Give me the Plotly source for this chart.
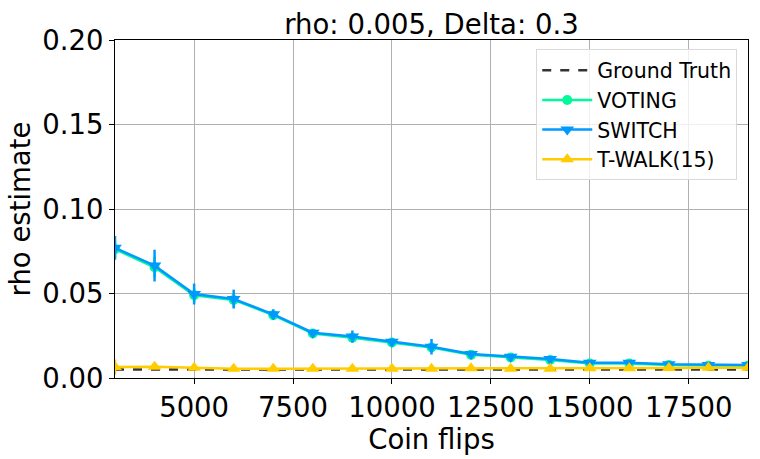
import plotly.graph_objects as go

coin_flips = [3000, 4000, 5000, 6000, 7000, 8000, 9000, 10000, 11000, 12000,
              13000, 14000, 15000, 16000, 17000, 18000, 19000]
ground_truth = [0.005] * len(coin_flips)
voting = [0.0762, 0.0655, 0.0490, 0.0462, 0.0372, 0.0263, 0.0238, 0.0210, 0.0180, 0.0137,
          0.0121, 0.0107, 0.0086, 0.0086, 0.0077, 0.0073, 0.0073]
voting_err = [0.005, 0.006, 0.004, 0.004, 0.002, 0.0015, 0.0015, 0.0015, 0.002, 0.0012,
              0.001, 0.001, 0.001, 0.001, 0.001, 0.001, 0.001]
switch = [0.077, 0.0665, 0.0497, 0.0467, 0.0377, 0.0268, 0.0245, 0.0215, 0.0185, 0.0142,
          0.0126, 0.0112, 0.009, 0.009, 0.0081, 0.0077, 0.0077]
switch_err = [0.007, 0.0094, 0.0062, 0.0056, 0.003, 0.002, 0.0036, 0.002, 0.0046, 0.0018,
              0.0015, 0.0015, 0.0015, 0.0015, 0.0015, 0.0015, 0.0015]
twalk = [0.0065, 0.0066, 0.006, 0.0055, 0.0055, 0.0055, 0.0055, 0.0055, 0.0055, 0.0058,
         0.0055, 0.0055, 0.0057, 0.0057, 0.0059, 0.006, 0.006]
twalk_err = [0.0045, 0.001, 0.0008, 0.0008, 0.0008, 0.0008, 0.0008, 0.0008, 0.0008, 0.0008,
             0.0008, 0.0008, 0.0008, 0.0008, 0.0008, 0.0008, 0.0008]

x_ticks = [5000, 7500, 10000, 12500, 15000, 17500]
y_ticks = [0.0, 0.05, 0.10, 0.15, 0.20]

FONT = "DejaVu Sans"
BIG = 27.5

fig = go.Figure()
fig.add_trace(go.Scatter(x=coin_flips, y=ground_truth, mode="lines", name="Ground Truth",
                         line=dict(color="#333333", width=2.5, dash="dash")))
fig.add_trace(go.Scatter(x=coin_flips, y=voting, mode="lines+markers", name="VOTING",
                         line=dict(color="#00fa9a", width=2.5),
                         marker=dict(symbol="circle", size=10, color="#00fa9a"),
                         error_y=dict(type="data", array=voting_err, color="#00fa9a",
                                      thickness=2.5, width=0)))
fig.add_trace(go.Scatter(x=coin_flips, y=switch, mode="lines+markers", name="SWITCH",
                         line=dict(color="#0099ff", width=2.5),
                         marker=dict(symbol="triangle-down", size=12, color="#0099ff"),
                         error_y=dict(type="data", array=switch_err, color="#0099ff",
                                      thickness=2.5, width=0)))
fig.add_trace(go.Scatter(x=coin_flips, y=twalk, mode="lines+markers", name="T-WALK(15)",
                         line=dict(color="#ffcc00", width=2.5),
                         marker=dict(symbol="triangle-up", size=12, color="#ffcc00"),
                         error_y=dict(type="data", array=twalk_err, color="#ffcc00",
                                      thickness=2.5, width=0)))

axis_common = dict(showline=True, linecolor="black", linewidth=1, mirror=True,
                   ticks="outside", ticklen=5, tickcolor="black",
                   showgrid=True, gridcolor="#b0b0b0", gridwidth=1, zeroline=False,
                   tickfont=dict(family=FONT, size=BIG, color="black"))

fig.update_layout(
    width=760, height=459,
    margin=dict(l=115, r=12, t=40, b=81),
    paper_bgcolor="white", plot_bgcolor="white",
    font=dict(family=FONT, color="black"),
    title=dict(text="rho: 0.005, Delta: 0.3", x=0.5, xref="paper", xanchor="center",
               y=1, yref="paper", yanchor="bottom", pad=dict(b=6),
               font=dict(family=FONT, size=BIG, color="black")),
    xaxis=dict(range=[3000, 19000], tickvals=x_ticks, tickformat="d",
               title=dict(text="Coin flips", font=dict(family=FONT, size=BIG), standoff=2),
               **axis_common),
    yaxis=dict(range=[0, 0.2], tickvals=y_ticks, tickformat=".2f",
               title=dict(text="rho estimate", font=dict(family=FONT, size=BIG), standoff=3),
               **axis_common),
    legend=dict(x=0.983, y=0.972, xanchor="right", yanchor="top",
                bgcolor="rgba(255,255,255,0.8)", bordercolor="#d9d9d9", borderwidth=1,
                itemwidth=50, tracegroupgap=0,
                font=dict(family=FONT, size=20.5, color="black")),
    showlegend=True,
)

fig.write_html("out.html")
